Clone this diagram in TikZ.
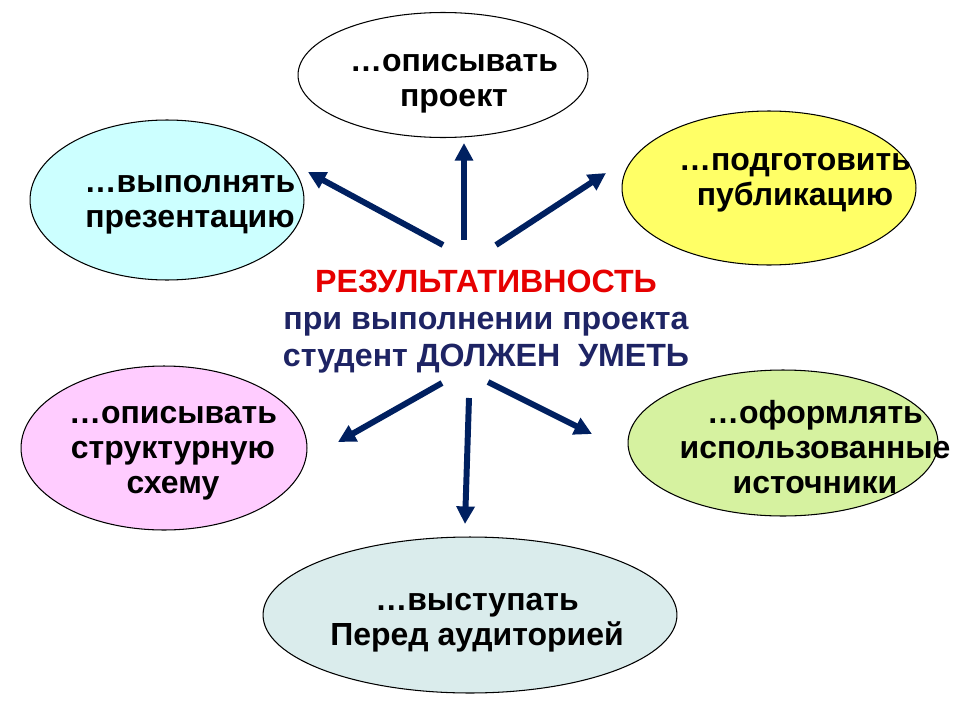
\documentclass[tikz,border=0pt]{standalone}
\usepackage{fontspec}
\setmainfont{Liberation Sans}
\usetikzlibrary{shapes.geometric,arrows.meta}
\definecolor{arrownavy}{RGB}{0,32,96}
\definecolor{textnavy}{RGB}{30,36,100}
\definecolor{resred}{RGB}{230,0,0}
\definecolor{cyanfill}{RGB}{204,255,255}
\definecolor{yellowfill}{RGB}{255,255,102}
\definecolor{pinkfill}{RGB}{255,204,255}
\definecolor{greenfill}{RGB}{214,242,160}
\definecolor{greyfill}{RGB}{218,236,236}
\begin{document}
\begin{tikzpicture}[x=0.02cm, y=-0.02cm,
    blob/.style={ellipse, draw=black, line width=0.6pt, inner sep=0pt},
    label/.style={align=center, font=\fontsize{18.2}{19.8}\selectfont\bfseries},
    ray/.style={draw=arrownavy, line width=3.4pt, -{Triangle[length=10pt, width=10pt]}}]
    \useasboundingbox (0,0) rectangle (960,720);
    % ellipses
    \node (proj) [blob, fill=white, minimum width=5.8cm, minimum height=2.5cm] at (443,75) {};
    \node (pres) [blob, fill=cyanfill, minimum width=5.48cm, minimum height=3.2cm] at (167,200) {};
    \node (publ) [blob, fill=yellowfill, minimum width=5.88cm, minimum height=3.08cm] at (769,188) {};
    \node (schem) [blob, fill=pinkfill, minimum width=5.72cm, minimum height=3.28cm] at (164,448) {};
    \node (src) [blob, fill=greenfill, minimum width=6.2cm, minimum height=2.92cm] at (783,443) {};
    \node (talk) [blob, fill=greyfill, minimum width=8.28cm, minimum height=3.12cm] at (470,615) {};
    % texts
    \node (projtxt) [label] at (454,84) {…описывать\\проект};
    \node (prestxt) [label] at (190,205) {…выполнять\\презентацию};
    \node (publtxt) [label] at (795,183) {…подготовить\\публикацию};
    \node (schemtxt) [label] at (173,453) {…описывать\\структурную\\схему};
    \node (srctxt) [label] at (815,447) {…оформлять\\использованные\\источники};
    \node (talktxt) [label] at (477,623) {…выступать\\Перед аудиторией};
    \node (centre) [label, text=textnavy, font=\fontsize{18.3}{21}\selectfont\bfseries] at (486,322)
        {\textcolor{resred}{РЕЗУЛЬТАТИВНОСТЬ}\\при выполнении проекта\\студент ДОЛЖЕН\ \ УМЕТЬ};
    % arrow ends
    \coordinate (ulS) at (443,245);  \coordinate (ulE) at (308,172);
    \coordinate (upS) at (464,240);  \coordinate (upE) at (464,143);
    \coordinate (urS) at (496,245);  \coordinate (urE) at (606,173);
    \coordinate (dlS) at (442,383);  \coordinate (dlE) at (338,442);
    \coordinate (dnS) at (469,398);  \coordinate (dnE) at (465,524);
    \coordinate (drS) at (488,382);  \coordinate (drE) at (592,434);
    \draw[ray] (ulS) -- (ulE);
    \draw[ray] (upS) -- (upE);
    \draw[ray] (urS) -- (urE);
    \draw[ray] (dlS) -- (dlE);
    \draw[ray] (dnS) -- (dnE);
    \draw[ray] (drS) -- (drE);
\end{tikzpicture}
\end{document}
